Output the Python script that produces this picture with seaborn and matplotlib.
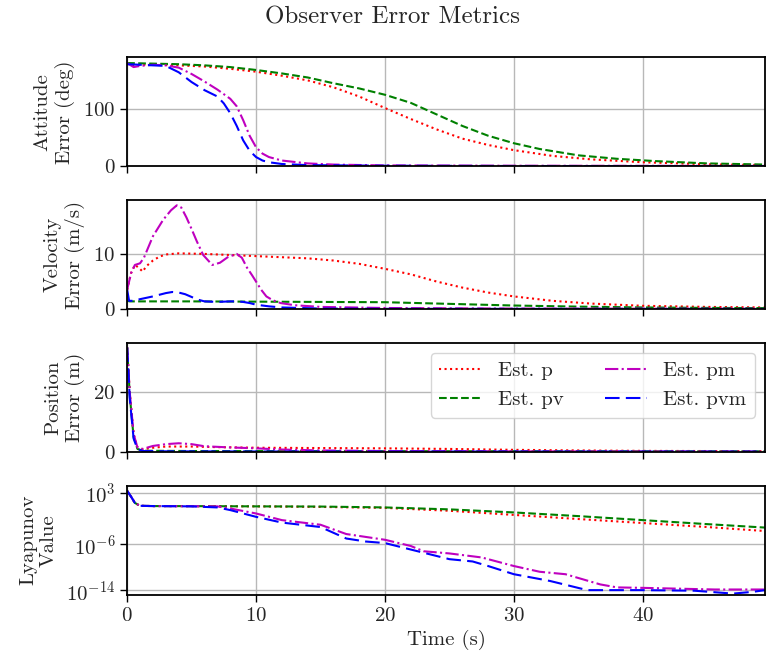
import numpy as np
import matplotlib
matplotlib.use("Agg")
import matplotlib.pyplot as plt
import seaborn as sns

# Attitude error (deg)
t_att_p = [0, 0.5, 1, 2, 4, 6, 8, 10, 12, 14, 16, 18, 20, 22, 24, 26, 28, 30, 33, 36, 40, 45, 49.5]
att_p = [178, 174, 176, 176, 175, 173, 169, 164, 157, 149, 137, 121, 101, 82, 64, 48, 37, 28, 18, 12, 7, 3.5, 2]
t_att_pv = [0, 2, 4, 6, 8, 10, 12, 14, 16, 18, 20, 22, 24, 26, 28, 30, 32, 35, 38, 41, 45, 49.5]
att_pv = [179, 178, 177, 175, 172, 167, 161, 154, 144, 135, 124, 110, 90, 70, 53, 40, 30, 19, 13, 9, 5, 3]
t_att_pm = [0, 0.5, 1, 2, 3, 4, 5, 6, 7, 8, 8.5, 9, 9.5, 10, 10.5, 11, 12, 14, 16, 20, 30, 40, 49.5]
att_pm = [179, 172, 174, 176, 175, 171, 160, 147, 133, 117, 104, 80, 53, 33, 22, 16, 10, 5, 3, 1.5, 1, 0.8, 0.7]
t_att_pvm = [0, 1, 2, 3, 4, 5, 6, 7, 7.5, 8, 8.5, 9, 9.5, 10, 10.5, 11, 12, 14, 20, 30, 49.5]
att_pvm = [177, 176, 175, 174, 163, 146, 132, 121, 109, 92, 70, 45, 27, 16, 10, 7, 4, 2, 1, 0.5, 0.3]

# Velocity error (m/s)
t_vel_p = [0, 0.3, 0.6, 0.9, 1.2, 1.5, 2, 2.5, 3, 4, 6, 8, 10, 12, 14, 16, 18, 20, 22, 24, 26, 28, 30, 33, 36, 40, 45, 49.5]
vel_p = [3.5, 6.5, 8.0, 7.5, 6.8, 7.8, 8.8, 9.5, 9.9, 10.1, 10.0, 9.8, 9.6, 9.4, 9.2, 8.8, 8.2, 7.3, 6.3, 5.0, 3.9, 3.0, 2.3, 1.5, 1.0, 0.6, 0.4, 0.3]
t_vel_pv = [0, 0.2, 5, 10, 15, 20, 25, 30, 35, 40, 45, 49.5]
vel_pv = [1.5, 1.4, 1.4, 1.35, 1.3, 1.25, 0.95, 0.65, 0.45, 0.3, 0.22, 0.18]
t_vel_pm = [0, 0.3, 0.6, 1.0, 1.3, 2.0, 2.8, 3.4, 3.85, 4.2, 4.6, 5.0, 5.4, 5.9, 6.6, 7.2, 7.8, 8.5, 8.9, 9.3, 9.7, 10.05, 10.4, 10.8, 11.3, 11.9, 13, 15, 20, 30, 49.5]
vel_pm = [3.5, 6.5, 8.0, 8.3, 9.3, 13.2, 16.2, 17.9, 18.8, 18.4, 16.6, 14.5, 12.3, 9.8, 8.0, 8.4, 9.4, 10.0, 9.3, 7.5, 6.1, 4.8, 3.5, 2.3, 1.6, 1.1, 0.7, 0.4, 0.2, 0.1, 0.05]
t_vel_pvm = [0, 0.15, 0.5, 1, 2, 3, 3.5, 4, 4.5, 5, 5.5, 6, 7, 8, 8.5, 9, 9.5, 10, 11, 12, 15, 20, 49.5]
vel_pvm = [3.5, 1.5, 1.5, 1.8, 2.3, 2.9, 3.1, 3.0, 2.7, 2.2, 1.7, 1.4, 1.3, 1.4, 1.4, 1.3, 1.1, 0.8, 0.5, 0.3, 0.1, 0.05, 0.03]

# Position error (m)
t_pos_p = [0, 0.2, 0.5, 0.8, 1.2, 2, 3, 5, 7, 10, 15, 20, 25, 30, 35, 40, 49.5]
pos_p = [35, 20, 6, 1.5, 0.9, 1.4, 1.8, 1.8, 1.6, 1.4, 1.3, 1.2, 1.0, 0.7, 0.5, 0.35, 0.25]
t_pos_pv = [0, 0.2, 0.5, 0.8, 1.2, 5, 20, 49.5]
pos_pv = [35, 19, 5, 1, 0.4, 0.3, 0.25, 0.2]
t_pos_pm = [0, 0.2, 0.5, 0.8, 1.2, 2, 3, 4, 5, 6, 8, 10, 12, 15, 20, 30, 49.5]
pos_pm = [35, 20, 6, 1.5, 1.0, 2.0, 2.6, 2.9, 2.6, 1.9, 1.5, 1.2, 0.8, 0.5, 0.3, 0.2, 0.1]
t_pos_pvm = [0, 0.2, 0.5, 0.8, 1.2, 3, 10, 49.5]
pos_pvm = [35, 18, 4.5, 1, 0.3, 0.2, 0.15, 0.1]

# Lyapunov value
t_lyap_p = [0, 0.3, 0.6, 1.0, 2, 5, 10, 15, 20, 25, 30, 35, 40, 45, 49.5]
lyap_p = [2e3, 2e2, 1.6e1, 5.0, 4.5, 4.3, 4.0, 3.2, 2.2, 6.8e-1, 1.3e-1, 2.5e-2, 5e-3, 1e-3, 2e-4]
t_lyap_pv = [0, 0.3, 0.6, 1.0, 2, 5, 10, 15, 20, 25, 30, 35, 40, 45, 49.5]
lyap_pv = [2e3, 2e2, 1.6e1, 5.0, 4.5, 4.4, 4.0, 3.7, 2.6, 1.2, 3.5e-1, 8e-2, 1.6e-2, 3.2e-3, 8e-4]
t_lyap_pm = [0, 0.3, 0.6, 1.0, 2, 5, 7, 8, 10, 12, 15, 17, 20, 22, 23, 25, 27.5, 30, 32, 34, 36.7, 38, 40, 45.6, 49.5]
lyap_pm = [2e3, 2e2, 1.6e1, 5.0, 4.5, 4.3, 4.0, 1.7, 2.3e-1, 1.6e-2, 2.5e-3, 6e-5, 6e-6, 5e-7, 6e-8, 2.5e-8, 5e-9,
           1.6e-10, 1.6e-11, 6e-12, 1e-13, 3e-14, 2.5e-14, 1.3e-14, 1.3e-14]
t_lyap_pvm = [0, 0.3, 0.6, 1.0, 2, 5, 7, 8, 10, 12, 15, 17, 18.5, 20, 22, 25, 26.8, 28, 30, 32.8, 35.7, 40, 44, 47, 48.5, 49.5]
lyap_pvm = [2e3, 2e2, 1.6e1, 5.0, 4.5, 4.0, 2.6, 9e-1, 6e-2, 6e-3, 1e-3, 1e-5, 3e-6, 1.6e-6, 1.2e-7, 2.5e-9, 1e-9, 1.6e-10,
            6e-12, 4e-13, 1e-14, 1e-14, 8e-15, 2.5e-15, 5e-15, 1e-14]

labels = ["Est. p", "Est. pv", "Est. pm", "Est. pvm"]
colors = ["red", "green", "m", "blue"]
styles = [":", "--", "-.", (0, (7, 3))]

panels = [
    ([t_att_p, t_att_pv, t_att_pm, t_att_pvm], [att_p, att_pv, att_pm, att_pvm], "Attitude\nError (deg)"),
    ([t_vel_p, t_vel_pv, t_vel_pm, t_vel_pvm], [vel_p, vel_pv, vel_pm, vel_pvm], "Velocity\nError (m/s)"),
    ([t_pos_p, t_pos_pv, t_pos_pm, t_pos_pvm], [pos_p, pos_pv, pos_pm, pos_pvm], "Position\nError (m)"),
    ([t_lyap_p, t_lyap_pv, t_lyap_pm, t_lyap_pvm], [lyap_p, lyap_pv, lyap_pm, lyap_pvm], "Lyapunov\nValue"),
]

sns.set_style("ticks")
plt.rcParams["font.family"] = ["serif"]
plt.rcParams["font.serif"] = ["cmr10"]
plt.rcParams["mathtext.fontset"] = "cm"
plt.rcParams["axes.formatter.use_mathtext"] = True
plt.rcParams["axes.unicode_minus"] = False
plt.rcParams["font.size"] = 15

fig, axes = plt.subplots(4, 1, sharex=True, figsize=(7.66, 6.66), dpi=100)
fig.subplots_adjust(left=0.166, right=0.999, top=0.914, bottom=0.107, hspace=0.31)

for ax, (ts, ys, ylab) in zip(axes, panels):
    for t, y, lab, c, ls in zip(ts, ys, labels, colors, styles):
        sns.lineplot(x=t, y=y, ax=ax, color=c, linestyle=ls, linewidth=1.5, label=lab, sort=False)
    ax.set_ylabel(ylab, fontsize=15, labelpad=6)
    ax.grid(True, color="0.72", linewidth=1.0)
    ax.tick_params(direction="out", length=5, width=1.0, color="black", labelsize=15)
    for s in ax.spines.values():
        s.set_linewidth(1.3)
        s.set_color("black")
    if ax.get_legend() is not None:
        ax.get_legend().remove()

axes[0].set_ylim(0, 189)
axes[0].set_yticks([0, 100])
axes[1].set_ylim(0, 19.75)
axes[1].set_yticks([0, 10])
axes[2].set_ylim(0, 36.5)
axes[2].set_yticks([0, 20])
axes[3].set_yscale("log")
axes[3].set_ylim(10 ** -14.8, 10 ** 4.2)
axes[3].set_yticks([1e3, 1e-6, 1e-14])
axes[3].yaxis.set_minor_locator(matplotlib.ticker.NullLocator())

axes[3].set_xlim(0, 49.5)
axes[3].set_xticks([0, 10, 20, 30, 40])
axes[3].set_xlabel("Time (s)", fontsize=15)

h, l = axes[2].get_legend_handles_labels()
axes[2].legend(h, l, ncol=2, loc="upper right", fontsize=15, framealpha=0.8)

fig.suptitle("Observer Error Metrics", x=0.513, y=0.99, fontsize=18)
fig.savefig("out.png", dpi=100)
